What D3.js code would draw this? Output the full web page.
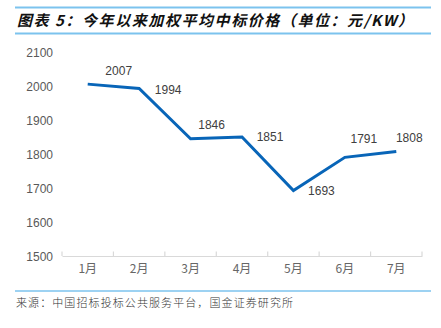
<!DOCTYPE html>
<html><head><meta charset="utf-8">
<script src="https://cdn.jsdelivr.net/npm/d3@7"></script>
<style>
html,body{margin:0;padding:0;background:#fff;}
svg{display:block;}
</style></head>
<body>
<svg id="chart" width="441" height="328"></svg>
<script>
const title = "图表 5：今年以来加权平均中标价格（单位：元/KW）";
const source = "来源：中国招标投标公共服务平台，国金证券研究所";
const months = ["1月","2月","3月","4月","5月","6月","7月"];
const prices = [2007, 1994, 1846, 1851, 1693, 1791, 1808];
const yTicks = [1500, 1600, 1700, 1800, 1900, 2000, 2100];
// label placement offsets (dx, dy) relative to each point
const labelDx = [31, 29, 21, 28, 28, 19, 13];
const labelDy = [-13, 1, -14, 0, 0, -19, -14];

const svg = d3.select("#chart");

// header rules
const ruleColor = "#7cc3ee";
svg.append("line").attr("x1",15).attr("x2",431).attr("y1",7.5).attr("y2",7.5)
  .attr("stroke",ruleColor).attr("stroke-width",2);
svg.append("line").attr("x1",15).attr("x2",431).attr("y1",33.5).attr("y2",33.5)
  .attr("stroke",ruleColor).attr("stroke-width",2);
svg.append("text").attr("x",17).attr("y",26)
  .attr("font-family","'Noto Sans CJK SC', sans-serif")
  .attr("font-size",15).attr("font-weight","bold").attr("font-style","italic")
  .attr("fill","#111").attr("textLength",396).attr("lengthAdjust","spacing")
  .text(title);

// footer
svg.append("line").attr("x1",15).attr("x2",431).attr("y1",291).attr("y2",291)
  .attr("stroke",ruleColor).attr("stroke-width",1.5);
svg.append("text").attr("x",16).attr("y",307)
  .attr("font-family","'Noto Sans CJK SC', sans-serif")
  .attr("font-size",11).attr("font-weight",300).attr("fill","#333")
  .attr("textLength",277).attr("lengthAdjust","spacing")
  .text(source);

// scales
const x = d3.scaleBand().domain(months).range([62, 422]);
const y = d3.scaleLinear().domain([1500, 2100]).range([256, 52.6]);

// y axis labels
const yAxis = d3.axisLeft(y).tickValues(yTicks).tickFormat(d3.format("d")).tickSize(0).tickPadding(0);
const gy = svg.append("g").attr("transform","translate(53,0)").call(yAxis);
gy.select(".domain").remove();
gy.selectAll("text").attr("font-family","'Liberation Sans', Arial, sans-serif")
  .attr("font-size",12).attr("fill","#595959").attr("dy","0.35em");

// x axis
const xAxis = d3.axisBottom(x).tickSize(0).tickPadding(0);
const gx = svg.append("g").attr("transform","translate(0,256)").call(xAxis);
gx.select(".domain").attr("stroke","#d9d9d9").attr("stroke-width",1.2);
gx.selectAll("text").attr("font-family","'Noto Sans CJK SC', 'Liberation Sans', sans-serif")
  .attr("font-size",12).attr("fill","#666").attr("y",17).attr("dy","0");
// boundary ticks
const bounds = months.map(m => x(m)).concat([x.range()[1]]);
svg.append("g").selectAll("line").data(bounds).join("line")
  .attr("x1",d=>d).attr("x2",d=>d).attr("y1",251.5).attr("y2",256)
  .attr("stroke","#d9d9d9").attr("stroke-width",1.2);

// line
const cx = i => x(months[i]) + x.bandwidth()/2;
const line = d3.line().x((d,i)=>cx(i)).y(d=>y(d));
svg.append("path").datum(prices).attr("d",line)
  .attr("fill","none").attr("stroke","#0865b8").attr("stroke-width",3)
  .attr("stroke-linejoin","miter");

// labels
svg.append("g").selectAll("text").data(prices).join("text")
  .attr("x",(d,i)=>cx(i)+labelDx[i]).attr("y",(d,i)=>y(d)+labelDy[i])
  .attr("text-anchor","middle").attr("dy","0.35em")
  .attr("font-family","'Liberation Sans', Arial, sans-serif")
  .attr("font-size",12).attr("fill","#404040")
  .text(d=>d);
</script>
</body></html>
